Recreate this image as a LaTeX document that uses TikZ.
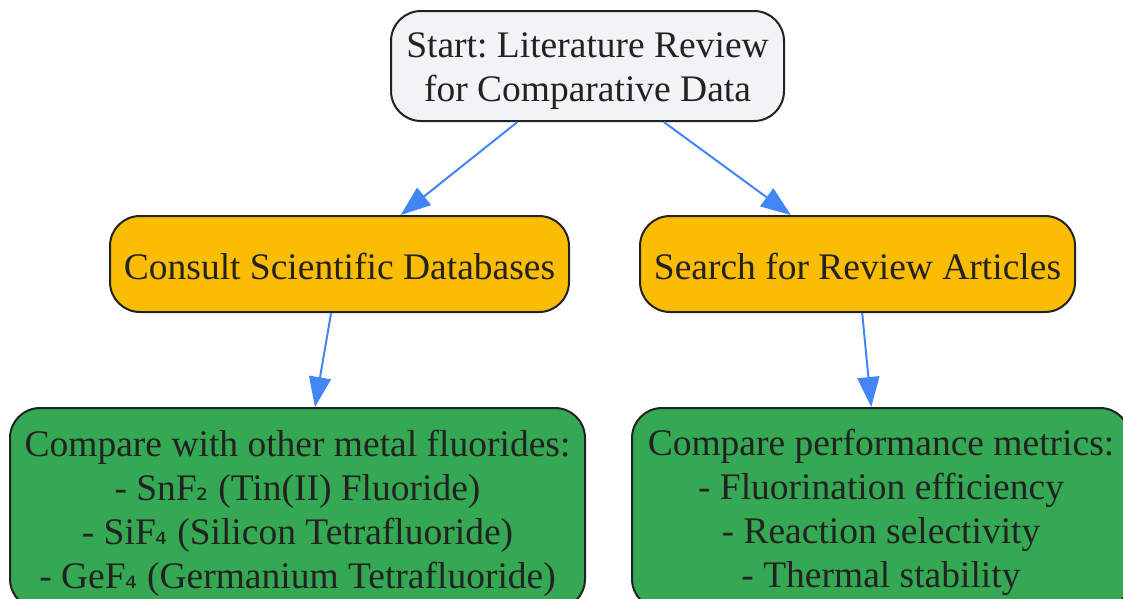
\documentclass[tikz,border=0pt]{standalone}
\usepackage{fontspec}
\setmainfont{Liberation Serif}
\newfontfamily\djv{DejaVu Sans}
\usetikzlibrary{arrows.meta}
\frenchspacing
\definecolor{edgeblue}{HTML}{4285F4}
\definecolor{startfill}{HTML}{F1F3F4}
\definecolor{orangefill}{HTML}{FBBC04}
\definecolor{greenfill}{HTML}{34A853}
\definecolor{bordc}{HTML}{222222}
\definecolor{txtc}{HTML}{222222}
\newcommand{\mysub}[1]{{\djv\fontsize{30}{44}\selectfont #1}}
\newcommand{\tstrut}{\rule{0pt}{35pt}}
\newcommand{\sstrut}{\rule{0pt}{31pt}}
\tikzset{
  box/.style={draw=bordc, line width=2pt, rounded corners=30pt, inner sep=0pt, align=center,
    text=txtc, font=\fontsize{37.5}{44}\selectfont\frenchspacing},
  startbox/.style={box, fill=startfill},
  orangebox/.style={box, fill=orangefill},
  greenbox/.style={box, fill=greenfill},
  conn/.style={draw=edgeblue, line width=2pt, -{Triangle[length=30pt,width=22pt]}}
}
\begin{document}
\begin{tikzpicture}[x=1pt,y=-1pt]
\useasboundingbox (0,0) rectangle (1123,598);
\node[startbox, minimum width=393pt, minimum height=110pt] (start) at (587.5,66) {\tstrut Start: Literature Review\\for Comparative Data};
\node[orangebox, minimum width=459pt, minimum height=96pt] (consult) at (339.5,264) {\sstrut Consult Scientific Databases};
\node[orangebox, minimum width=435pt, minimum height=96pt] (search) at (857.5,264) {\sstrut Search for Review Articles};
\node[greenbox, minimum width=575pt, minimum height=201pt] (cmpa) at (297.5,508.5) {\tstrut Compare with other metal fluorides:\\- SnF\mysub{₂} (Tin(II) Fluoride)\\- SiF\mysub{₄} (Silicon Tetrafluoride)\\- GeF\mysub{₄} (Germanium Tetrafluoride)};
\node[greenbox, minimum width=498pt, minimum height=201pt] (cmpb) at (881,508.5) {\tstrut Compare performance metrics:\\- Fluorination efficiency\\- Reaction selectivity\\- Thermal stability};
\draw[conn] (start) -- (consult);
\draw[conn] (start) -- (search);
\draw[conn] (consult) -- (cmpa);
\draw[conn] (search) -- (cmpb);
\end{tikzpicture}
\end{document}
